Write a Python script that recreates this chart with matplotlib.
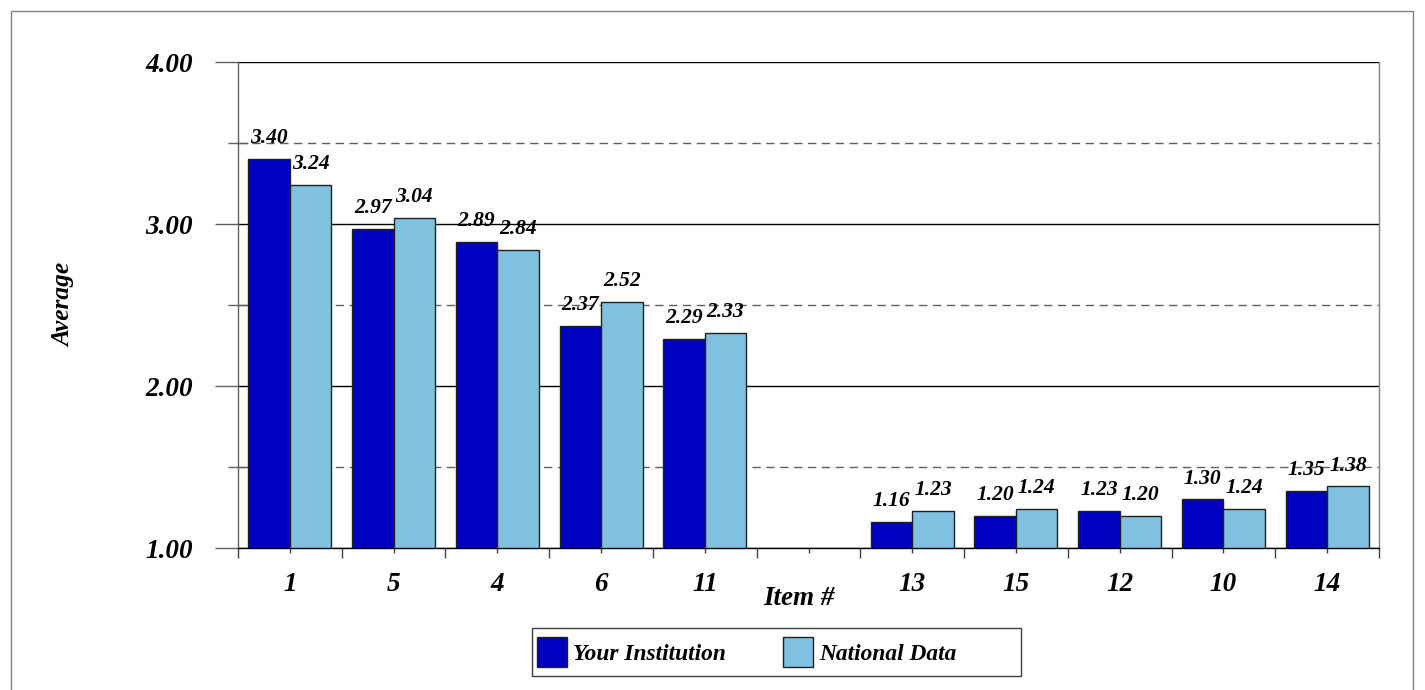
import matplotlib
matplotlib.use("Agg")
import matplotlib.pyplot as plt
import numpy as np
from matplotlib.patches import Rectangle, Patch
from matplotlib.ticker import FixedLocator

# ---- data ----
categories = ['1', '5', '4', '6', '11', '', '13', '15', '12', '10', '14']
your_institution = [3.40, 2.97, 2.89, 2.37, 2.29, None, 1.16, 1.20, 1.23, 1.30, 1.35]
national_data = [3.24, 3.04, 2.84, 2.52, 2.33, None, 1.23, 1.24, 1.20, 1.24, 1.38]
y_ticks = [1.0, 2.0, 3.0, 4.0]
y_tick_labels = ['1.00', '2.00', '3.00', '4.00']
y_minor = [1.5, 2.5, 3.5]
series_names = ['Your Institution', 'National Data']

plt.rcParams['font.family'] = ['Liberation Serif', 'DejaVu Serif']
FONT = dict(fontweight='bold', fontstyle='italic')

dark = '#0000C0'
light = '#80C0E0'

fig = plt.figure(figsize=(14.25, 6.9), dpi=100)
ax = fig.add_axes([238/1425, 1-548/690, (1379-238)/1425, (548-62)/690])

x = np.arange(len(categories))
w = 0.4
for i, (a, b) in enumerate(zip(your_institution, national_data)):
    if a is not None:
        ax.bar(x[i] - w/2, a - 1.0, bottom=1.0, width=w, color=dark,
               edgecolor='#202020', linewidth=1, zorder=3)
        ax.annotate(f'{a:.2f}', (x[i] - w/2, a), xytext=(0, 15),
                    textcoords='offset points', ha='center', va='center',
                    fontsize=15.5, **FONT, zorder=5)
    if b is not None:
        ax.bar(x[i] + w/2, b - 1.0, bottom=1.0, width=w, color=light,
               edgecolor='#202020', linewidth=1, zorder=3)
        ax.annotate(f'{b:.2f}', (x[i] + w/2, b), xytext=(0, 15),
                    textcoords='offset points', ha='center', va='center',
                    fontsize=15.5, **FONT, zorder=5)

ax.set_xlim(-0.5, len(categories) - 0.5)
ax.set_ylim(1.0, 4.0)

# y axis
ax.set_yticks(y_ticks)
ax.set_yticklabels(y_tick_labels, fontsize=19.5, **FONT)
ax.yaxis.set_minor_locator(FixedLocator(y_minor))
ax.tick_params(axis='y', which='major', direction='out', length=16.6,
               width=1, color='#606060', pad=16)
ax.tick_params(axis='y', which='minor', direction='inout', length=13.7,
               width=1, color='#606060')
ax.yaxis.grid(True, which='major', color='black', linewidth=1, zorder=1)
ax.yaxis.grid(True, which='minor', color='#606060', linewidth=1,
              linestyle=(0, (6, 4)), zorder=1)

# x axis
ax.set_xticks(x)
ax.set_xticklabels(categories, fontsize=19.5, **FONT)
ax.xaxis.set_minor_locator(FixedLocator(np.arange(-0.5, len(categories), 1.0)))
ax.tick_params(axis='x', which='major', direction='out', length=3.6,
               width=1, color='#404040', pad=14)
ax.tick_params(axis='x', which='minor', direction='out', length=7.2,
               width=1, color='#404040')
ax.set_xlabel('Item #', fontsize=19.5, **FONT)
ax.xaxis.set_label_coords((799-238)/1141, -0.078)

ax.spines['top'].set_visible(False)
ax.spines['left'].set_color('#606060')
ax.spines['right'].set_color('#808080')
ax.spines['bottom'].set_color('black')
for s in ax.spines.values():
    s.set_linewidth(1)

fig.text(64/1425, 1-305/690, 'Average', rotation=90, ha='center', va='center',
         fontsize=18.3, **FONT)

# legend (entries without frame, frame drawn separately to match width)
handles = [Patch(facecolor=dark, edgecolor='#202020'),
           Patch(facecolor=light, edgecolor='#202020')]
leg = fig.legend(handles, series_names, loc='center left',
                 bbox_to_anchor=(537/1425, 1-652/690), ncol=2,
                 prop=dict(family='Liberation Serif', weight='bold', style='italic', size=16.8),
                 handlelength=1.29, handleheight=1.59, handletextpad=0.26,
                 columnspacing=2.45, frameon=False, borderpad=0, borderaxespad=0)
fig.patches.append(Rectangle((532/1425, 1-676/690), (1021-532)/1425, 48/690,
                             transform=fig.transFigure, fill=False,
                             edgecolor='#404040', linewidth=1))

# outer figure border
fig.patches.append(Rectangle((11/1425, -0.05), (1413-11)/1425, 1.05 - 11/690,
                             transform=fig.transFigure, fill=False,
                             edgecolor='#808080', linewidth=1))

fig.savefig('out.png', dpi=100)
